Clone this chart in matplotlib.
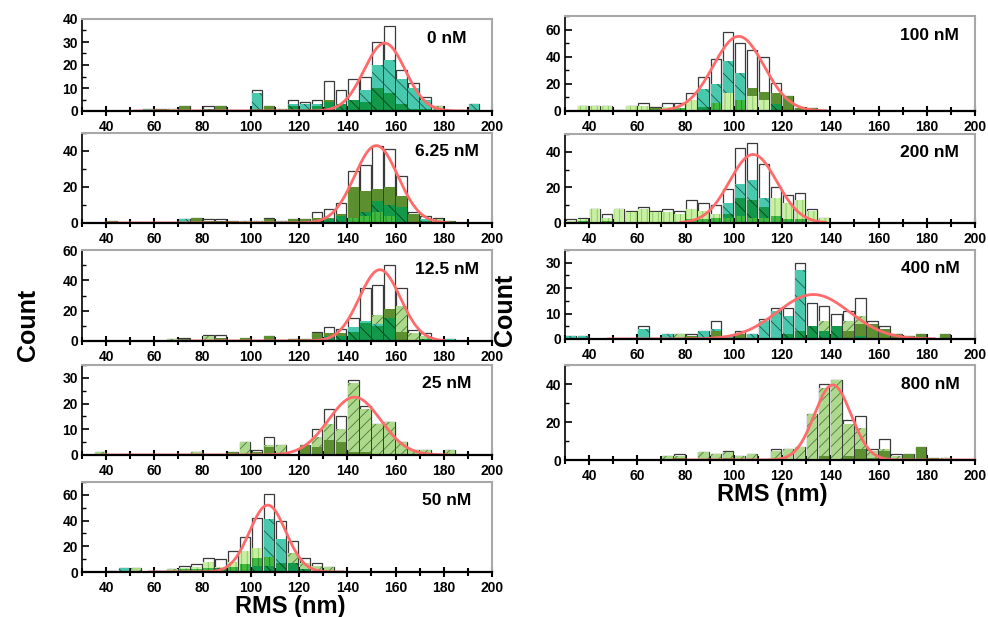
import numpy as np
import matplotlib
matplotlib.use('Agg')
import matplotlib.pyplot as plt
from matplotlib import font_manager
from matplotlib.ticker import MultipleLocator

names = {f.name for f in font_manager.fontManager.ttflist}
FAM = 'Liberation Sans Narrow' if 'Liberation Sans Narrow' in names else 'Liberation Sans'
plt.rcParams['font.family'] = [FAM, 'DejaVu Sans']
plt.rcParams['font.weight'] = 'bold'
plt.rcParams['hatch.linewidth'] = 0.6

# ---------------- data ----------------
bin_centers = [32.5, 37.5, 42.5, 47.5, 52.5, 57.5, 62.5, 67.5, 72.5, 77.5, 82.5,
               87.5, 92.5, 97.5, 102.5, 107.5, 112.5, 117.5, 122.5, 127.5, 132.5,
               137.5, 142.5, 147.5, 152.5, 157.5, 162.5, 167.5, 172.5, 177.5,
               182.5, 187.5, 192.5]

panel_labels = ['0 nM', '6.25 nM', '12.5 nM', '25 nM', '50 nM',
                '100 nM', '200 nM', '400 nM', '800 nM']

# 0 nM
total_0 = [0,0,0,0,0,1,1,1,2,0,2,2,0,0,9,2,1,5,4,5,13,9,14,15,30,37,18,12,6,2,0,0,3]
teal_0  = [0,0,0,0,0,1,0,0,0,0,0,0,0,0,8,0,0,3,3,3,0,0,0,9,20,22,14,10,5,0,0,0,3]
olive_0 = [0,0,0,0,0,0,1,0,2,0,0,2,0,0,0,2,0,0,0,0,5,0,0,0,0,0,0,0,0,0,0,0,0]
dgrn_0  = [0,0,0,0,0,0,0,0,0,0,1,0,0,0,1,0,0,2,1,2,4,3,5,4,10,8,3,1,1,0,0,0,0]
lgrn_0  = [0,0,0,0,0,0,0,1,0,0,0,0,0,0,0,0,1,0,0,0,0,0,0,0,0,0,0,0,0,2,0,0,0]

# 6.25 nM
total_1 = [0,0,1,0,0,0,0,0,2,3,2,2,1,1,1,3,1,2,2,6,8,11,29,32,43,41,26,6,4,3,1,0,0]
olive_1 = [0,0,1,0,0,0,0,0,0,3,1,0,1,0,0,2,0,2,2,3,3,5,20,18,19,20,15,5,0,0,1,0,0]
teal_1  = [0,0,0,0,0,0,0,0,2,0,0,0,0,0,0,0,1,0,0,0,0,0,0,0,0,0,0,0,2,0,0,0,0]
dgrn_1  = [0,0,0,0,0,0,0,0,0,0,0,1,0,0,0,0,0,0,0,1,2,4,3,6,12,10,9,0,1,0,0,0,0]
lgrn_1  = [0,0,0,0,0,0,0,0,0,0,0,0,0,1,1,0,0,0,0,0,0,0,0,0,0,0,0,0,0,2,0,0,0]
bgrn_1  = [0,0,0,0,0,0,0,0,0,0,0,0,0,0,0,0,0,0,0,0,0,0,3,4,6,4,0,0,0,0,0,0,0]

# 12.5 nM
total_2 = [0,0,0,0,0,0,0,1,2,0,4,4,0,2,0,3,0,1,1,6,9,8,15,35,37,50,35,7,5,0,1,0,0]
lgrn_2  = [0,0,0,0,0,0,0,1,0,0,3,0,0,0,0,0,0,0,0,0,0,0,0,0,17,0,23,5,3,0,0,0,0]
olive_2 = [0,0,0,0,0,0,0,0,0,0,0,2,0,2,0,3,0,1,1,5,5,5,0,0,0,21,6,0,0,0,0,0,0]
teal_2  = [0,0,0,0,0,0,0,0,0,0,0,0,0,0,0,0,0,0,0,0,1,0,9,13,11,0,0,0,0,0,1,0,0]
dgrn_2  = [0,0,0,0,0,0,0,0,1,0,0,0,0,0,0,0,0,0,0,1,3,3,6,12,10,15,0,0,1,0,0,0,0]

# 25 nM
total_3 = [0,1,0,0,0,0,0,0,0,1,0,0,1,5,2,7,4,0,4,10,18,15,29,19,12,13,5,2,2,0,2,0,0]
lgrn_3  = [0,1,0,0,0,0,0,0,0,1,0,0,0,5,1,4,4,0,0,7,12,10,28,18,12,13,5,2,2,0,2,0,0]
olive_3 = [0,0,0,0,0,0,0,0,0,0,0,0,1,0,1,3,0,0,4,3,6,5,1,1,0,0,0,0,0,0,0,0,0]

# 50 nM
total_4 = [0,0,1,3,3,0,1,2,5,6,11,10,16,27,42,61,40,24,11,7,4,1,0,0,0,0,0,0,0,0,0,0,0]
teal_4  = [0,0,1,3,0,0,0,0,0,0,0,0,0,0,0,41,26,0,0,0,0,0,0,0,0,0,0,0,0,0,0,0,0]
lgrn_4  = [0,0,0,0,3,0,0,2,0,0,0,0,0,0,0,0,0,15,7,5,4,0,0,0,0,0,0,0,0,0,0,0,0]
pale_4  = [0,0,0,0,0,0,0,0,3,4,8,4,8,16,19,0,0,0,0,0,0,0,0,0,0,0,0,0,0,0,0,0,0]
bgrn_4  = [0,0,0,0,0,0,0,0,2,2,3,0,4,6,11,12,0,0,0,0,0,0,0,0,0,0,0,0,0,0,0,0,0]
dgrn_4  = [0,0,0,0,0,0,0,0,0,0,0,3,0,0,5,5,7,7,2,1,0,0,0,0,0,0,0,0,0,0,0,0,0]
olive_4 = [0,0,0,0,0,0,1,0,0,0,0,0,0,0,0,0,0,0,0,0,0,1,0,0,0,0,0,0,0,0,0,0,0]

# 100 nM
total_5 = [0,4,4,4,1,4,6,3,6,6,13,25,38,58,50,45,40,21,11,2,2,1,0,0,0,0,0,0,0,0,0,0,0]
teal_5  = [0,0,0,0,0,0,0,0,0,0,0,16,20,37,28,0,0,0,0,0,0,0,0,0,0,0,0,0,0,0,0,0,0]
olive_5 = [0,0,0,0,1,0,0,2,0,0,0,0,0,0,0,17,14,13,11,2,2,1,0,0,0,0,0,0,0,0,0,0,0]
pale_5  = [0,4,4,4,0,4,4,0,3,0,8,0,0,13,0,11,8,0,0,0,0,0,0,0,0,0,0,0,0,0,0,0,0]
bgrn_5  = [0,0,0,0,0,0,0,0,0,2,0,0,6,0,8,0,0,0,0,0,0,0,0,0,0,0,0,0,0,0,0,0,0]
dgrn_5  = [0,0,0,0,0,0,0,0,0,0,0,3,0,0,0,0,0,5,0,0,0,0,0,0,0,0,0,0,0,0,0,0,0]

# 200 nM
total_6 = [2,3,8,5,8,7,9,7,8,7,13,11,10,19,42,45,33,20,16,17,8,3,0,0,0,0,0,0,0,0,0,0,0]
pale_6  = [1,2,8,3,8,6,8,6,6,5,8,7,5,0,0,0,0,14,11,13,7,3,0,0,0,0,0,0,0,0,0,0,0]
teal_6  = [0,0,0,0,0,0,0,0,0,0,0,0,0,11,22,24,14,0,0,0,0,0,0,0,0,0,0,0,0,0,0,0,0]
dgrn_6  = [0,0,0,0,0,0,0,0,0,0,0,0,0,5,14,13,9,0,0,0,0,0,0,0,0,0,0,0,0,0,0,0,0]
bgrn_6  = [0,1,0,1,0,0,0,0,0,0,2,2,3,3,4,3,3,4,2,2,0,0,0,0,0,0,0,0,0,0,0,0,0]

# 400 nM
total_7 = [1,1,0,0,0,0,5,0,2,2,2,3,7,1,3,2,8,12,12,30,14,13,10,11,16,7,5,2,1,2,0,2,0]
teal_7  = [1,1,0,0,0,0,4,0,2,0,0,3,4,1,0,2,7,11,9,27,0,0,0,0,0,0,0,0,0,0,0,0,0]
lgrn_7  = [0,0,0,0,0,0,0,0,0,2,0,0,0,0,0,0,0,0,0,0,0,7,0,7,9,0,0,0,0,0,0,0,0]
olive_7 = [0,0,0,0,0,0,0,0,0,0,1,0,3,0,2,0,0,0,0,0,0,0,0,3,6,6,4,2,1,2,0,2,0]
dgrn_7  = [0,0,0,0,0,0,0,0,0,0,0,0,0,0,0,0,0,0,2,3,5,3,5,0,1,0,0,0,0,0,0,0,0]

# 800 nM
total_8 = [0,0,0,0,0,0,0,0,2,3,0,4,3,5,2,3,0,6,6,7,24,40,42,21,23,6,11,3,3,7,1,1,0]
lgrn_8  = [0,0,0,0,0,0,0,0,2,2,0,4,3,4,2,3,0,5,6,7,24,38,42,19,17,5,6,2,0,0,0,1,0]
olive_8 = [0,0,0,0,0,0,0,0,0,1,0,0,0,1,0,0,0,0,0,0,0,2,0,2,6,1,5,0,3,7,1,0,0]

# Gaussian fit parameters (amplitude, centre, sigma, drawn range)
fit_amp   = [29.5, 43, 47, 22.5, 52, 55, 38.5, 17.5, 39.5]
fit_mu    = [155.5, 152, 153.5, 143, 107, 102, 108, 133, 141]
fit_sigma = [8.5, 9, 8.5, 10.8, 7.5, 10.5, 9.8, 15, 7.6]
fit_lo    = [52, 40, 70, 38, 58, 70, 78, 48, 75]
fit_hi    = [190, 182, 180, 182, 138, 138, 138, 183, 200]

y_max   = [40, 50, 60, 35, 70, 70, 50, 35, 50]
y_major = [10, 20, 20, 10, 20, 20, 20, 10, 20]

layers = [
    [('total', total_0), ('teal', teal_0), ('olive', olive_0), ('lgrn', lgrn_0), ('dgrn', dgrn_0)],
    [('total', total_1), ('olive', olive_1), ('teal', teal_1), ('lgrn', lgrn_1), ('dgrn', dgrn_1), ('bgrn', bgrn_1)],
    [('total', total_2), ('lgrn', lgrn_2), ('olive', olive_2), ('teal', teal_2), ('dgrn', dgrn_2)],
    [('total', total_3), ('lgrn', lgrn_3), ('olive', olive_3)],
    [('total', total_4), ('teal', teal_4), ('lgrn', lgrn_4), ('pale', pale_4), ('bgrn', bgrn_4), ('dgrn', dgrn_4), ('olive', olive_4)],
    [('total', total_5), ('teal', teal_5), ('olive', olive_5), ('pale', pale_5), ('bgrn', bgrn_5), ('dgrn', dgrn_5)],
    [('total', total_6), ('pale', pale_6), ('teal', teal_6), ('dgrn', dgrn_6), ('bgrn', bgrn_6)],
    [('total', total_7), ('teal', teal_7), ('lgrn', lgrn_7), ('olive', olive_7), ('dgrn', dgrn_7)],
    [('total', total_8), ('lgrn', lgrn_8), ('olive', olive_8)],
]

# ---------------- styles ----------------
STY = {
    'total': dict(facecolor='white', edgecolor='#3a3a3a', linewidth=0.9),
    'teal':  dict(facecolor='#48c9ad', edgecolor='#1f5a4c', hatch='\\\\', linewidth=0),
    'olive': dict(facecolor='#5b8f2f', edgecolor='#5b8f2f', linewidth=0),
    'dgrn':  dict(facecolor='#12994a', edgecolor='#083d1d', hatch='\\\\', linewidth=0),
    'lgrn':  dict(facecolor='#acd98c', edgecolor='#4d7a3a', hatch='///', linewidth=0),
    'pale':  dict(facecolor='#c8f0a2', edgecolor='#86c260', hatch='|||', linewidth=0),
    'bgrn':  dict(facecolor='#3fba3f', edgecolor='#23862a', hatch='|||', linewidth=0),
}

W, H = 988, 617
fig = plt.figure(figsize=(W / 100, H / 100), dpi=100)

# pixel boxes (left, top, right, bottom)
boxes = [
    (82, 19, 492, 111), (82, 133, 492, 223), (82, 250, 492, 341),
    (82, 365, 492, 455), (82, 482, 492, 572),
    (565, 16, 975, 111), (565, 134, 975, 223), (565, 250, 975, 339),
    (565, 365, 975, 460),
]

xc = np.array(bin_centers)
for i, (l, t, r, b) in enumerate(boxes):
    ax = fig.add_axes([l / W, 1 - b / H, (r - l) / W, (b - t) / H])
    for key, vals in layers[i]:
        v = np.array(vals, dtype=float)
        m = v > 0
        ax.bar(xc[m], v[m], width=4.3, zorder=2, **STY[key])
    xs = np.linspace(fit_lo[i], fit_hi[i], 400)
    ax.plot(xs, fit_amp[i] * np.exp(-0.5 * ((xs - fit_mu[i]) / fit_sigma[i]) ** 2),
            color='#ff6b6b', lw=2, zorder=5)
    ax.set_xlim(30, 200)
    ax.set_ylim(0, y_max[i])
    ax.xaxis.set_major_locator(MultipleLocator(20))
    ax.xaxis.set_minor_locator(MultipleLocator(10))
    ax.yaxis.set_major_locator(MultipleLocator(y_major[i]))
    ax.yaxis.set_minor_locator(MultipleLocator(y_major[i] / 2))
    ax.tick_params(axis='x', which='major', direction='inout', length=7, width=1.5,
                   labelsize=10, pad=3, top=False)
    ax.tick_params(axis='x', which='minor', direction='inout', length=6, width=1.5, top=False)
    ax.tick_params(axis='y', which='major', direction='in', length=5, width=1.2,
                   labelsize=10, pad=3, right=False)
    ax.tick_params(axis='y', which='minor', direction='in', length=3, width=1.0, right=False)
    for lab in ax.get_xticklabels() + ax.get_yticklabels():
        lab.set_fontweight('bold')
    ax.spines['left'].set_color('black')
    ax.spines['left'].set_linewidth(1.2)
    ax.spines['bottom'].set_color('black')
    ax.spines['bottom'].set_linewidth(1.6)
    ax.spines['bottom'].set_zorder(6)
    for s in ('top', 'right'):
        ax.spines[s].set_color('#a8a8a8')
        ax.spines[s].set_linewidth(1.5)
    ax.set_facecolor('white')
    ax.text(0.89, 0.79, panel_labels[i], transform=ax.transAxes, ha='center', va='center',
            fontsize=12.5, fontweight='bold')

fig.text(28 / W, 1 - 325 / H, 'Count', rotation=90, ha='center', va='center',
         fontsize=18, fontweight='bold')
fig.text(505 / W, 1 - 310 / H, 'Count', rotation=90, ha='center', va='center',
         fontsize=18, fontweight='bold')
fig.text(290 / W, 1 - 607 / H, 'RMS (nm)', ha='center', va='center',
         fontsize=17, fontweight='bold')
fig.text(772 / W, 1 - 495 / H, 'RMS (nm)', ha='center', va='center',
         fontsize=17, fontweight='bold')

fig.savefig('out.png', dpi=100)
